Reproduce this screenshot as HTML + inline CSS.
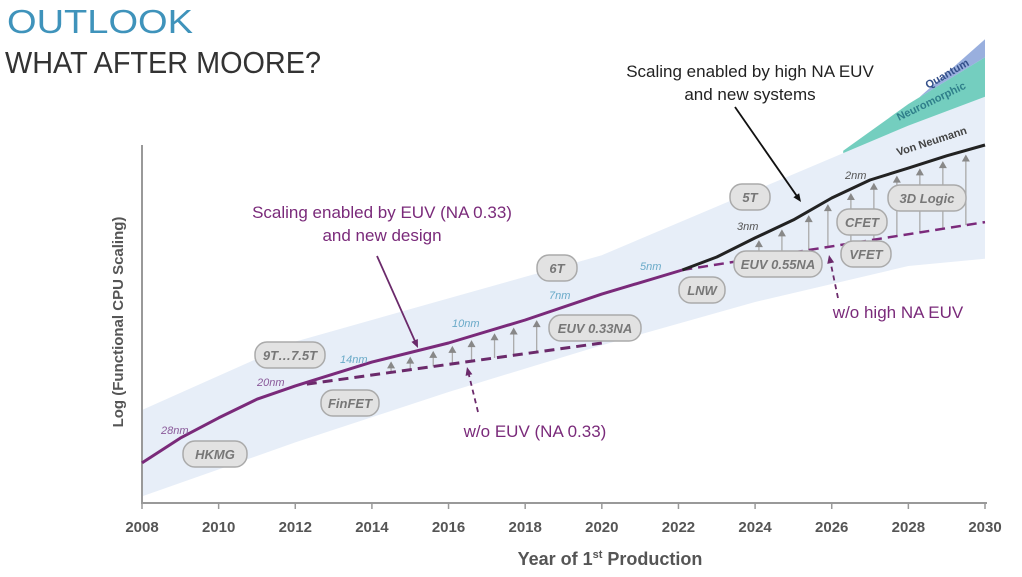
<!DOCTYPE html>
<html><head><meta charset="utf-8">
<style>
html,body{margin:0;padding:0;background:#fff;}
svg{display:block;font-family:"Liberation Sans",sans-serif;}
</style></head>
<body>
<svg id="chart" width="1022" height="577" viewBox="0 0 1022 577">
<text x="7" y="33" font-size="33" fill="#3f93bb" textLength="186" lengthAdjust="spacingAndGlyphs">OUTLOOK</text>
<text x="5" y="73" font-size="31" fill="#333" textLength="316" lengthAdjust="spacingAndGlyphs">WHAT AFTER MOORE?</text>
<g id="plot"></g>
</svg>
<script>
// ---- data ----
const xTicks = [2008,2010,2012,2014,2016,2018,2020,2022,2024,2026,2028,2030];
const mainYears = [2008,2009,2010,2011,2012,2014,2016,2018,2020,2022.1];
const mainValues = [10.3,17.2,22.8,28,31.7,38.3,43.6,50,57.2,63.9];
const highNaYears = [2022.1,2023,2024,2025,2026,2027,2028,2029,2030];
const highNaValues = [63.9,67.5,72.8,77.8,83.9,88.9,92.2,95.6,98.6];
const noEuvYears = [2012.3,2020];
const noEuvValues = [32.2,43.6];
const noHighNaYears = [2022.1,2030];
const noHighNaValues = [63.9,77.2];
const bandYears = [2008,2012,2016,2020,2024,2028,2030];
const bandUpper = [25,44,56,68,86,104,112];
const bandLower = [1,16,30,43,55,65,67];
const neuroYears = [2026.3,2028,2030];
const neuroUpper = [97,110,123];
const quantumYears = [2028.3,2030];
const quantumUpper = [112,128];
const euvArrowYears = [2014.5,2015,2015.6,2016.1,2016.6,2017.2,2017.7,2018.3];
const naArrowYears = [2024.1,2024.7,2025.4,2025.9,2026.5,2027.1,2027.7,2028.3,2028.9,2029.5];

const NS='http://www.w3.org/2000/svg';
const plot=document.getElementById('plot');
const X=y=>142+(y-2008)*(985-142)/22;
const Y=v=>500-v*3.6;
function el(tag,attrs,parent){const e=document.createElementNS(NS,tag);for(const k in attrs)e.setAttribute(k,attrs[k]);(parent||plot).appendChild(e);return e;}
function interp(ys,vs,y){for(let i=0;i<ys.length-1;i++){if(y>=ys[i]&&y<=ys[i+1]){const t=(y-ys[i])/(ys[i+1]-ys[i]);return vs[i]+t*(vs[i+1]-vs[i]);}}return y<ys[0]?vs[0]:vs[vs.length-1];}
function path(ys,vs){return ys.map((y,i)=>(i?'L':'M')+X(y).toFixed(1)+','+Y(vs[i]).toFixed(1)).join(' ');}

// band
let d=path(bandYears,bandUpper)+' '+bandYears.slice().reverse().map((y,i,a)=>'L'+X(y)+','+Y(bandLower[bandLower.length-1-i])).join(' ')+'Z';
const band=el('path',{d:d,fill:'#e7eef8'});


// neuromorphic
const nb=neuroYears.map(y=>interp(bandYears,bandUpper,y));
d=path(neuroYears,neuroUpper)+' '+neuroYears.slice().reverse().map((y,i)=>'L'+X(y)+','+Y(nb[nb.length-1-i])).join(' ')+'Z';
const neuro=el('path',{d:d,fill:'#5cc6b4',opacity:'0.85'});


const qb=quantumYears.map(y=>interp(neuroYears,neuroUpper,y));
d=path(quantumYears,quantumUpper)+' '+quantumYears.slice().reverse().map((y,i)=>'L'+X(y)+','+Y(qb[qb.length-1-i])).join(' ')+'Z';
const quant=el('path',{d:d,fill:'#7f9bd6',opacity:'0.8'});



// axes
const ax=el('path',{d:'M142,145 L142,503 L987,503',fill:'none',stroke:'#999','stroke-width':2});


xTicks.forEach(t=>{
  el('line',{x1:X(t),x2:X(t),y1:503,y2:509,stroke:'#999','stroke-width':1.5});
  const tx=el('text',{x:X(t),y:532,'font-size':15,'font-weight':'bold',fill:'#555','text-anchor':'middle'});
  tx.textContent=t;
  
  
});
const xt=el('text',{x:610,y:565,'font-size':18,'font-weight':'bold',fill:'#555','text-anchor':'middle'});
xt.innerHTML='Year of 1<tspan font-size="11" dy="-7">st</tspan><tspan dy="7"> Production</tspan>';


const yt=el('text',{x:0,y:0,'font-size':15,'font-weight':'bold',fill:'#555','text-anchor':'middle',transform:'translate(123,322) rotate(-90)'});
yt.textContent='Log (Functional CPU Scaling)';



// up arrows
function arrows(years,loY,loV,hiY,hiV,name){years.forEach(y=>{
  const y0=Y(interp(loY,loV,y)),y1=Y(interp(hiY,hiV,y))+6,x=X(y);
  const g=el('g',{});
  
  
  el('line',{x1:x,x2:x,y1:y0,y2:y1+4,stroke:'#aaa','stroke-width':1.3},g);
  el('path',{d:`M${x-4},${y1+5} L${x+4},${y1+5} L${x},${y1-2}Z`,fill:'#888'},g);
});}
arrows(euvArrowYears,noEuvYears,noEuvValues,mainYears,mainValues,'euv-gain-arrow');
arrows(naArrowYears,noHighNaYears,noHighNaValues,highNaYears,highNaValues,'high-na-gain-arrow');

// lines
let l=el('path',{d:path(noEuvYears,noEuvValues),fill:'none',stroke:'#6b2a6b','stroke-width':3,'stroke-dasharray':'10,6'});


l=el('path',{d:path(noHighNaYears,noHighNaValues),fill:'none',stroke:'#7b2a7b','stroke-width':2.5,'stroke-dasharray':'10,6'});


l=el('path',{d:path(mainYears,mainValues),fill:'none',stroke:'#7a2a7a','stroke-width':3,'stroke-linejoin':'round'});


l=el('path',{d:path(highNaYears,highNaValues),fill:'none',stroke:'#222','stroke-width':3,'stroke-linejoin':'round'});



// pills
function pill(cx,cy,w,txt,name){
  const g=el('g',{});
  
  
  el('rect',{x:cx-w/2,y:cy-13,width:w,height:26,rx:12,fill:'#e2e2e2',stroke:'#aaa','stroke-width':1.5},g);
  const t=el('text',{x:cx,y:cy+5,'font-size':13,'font-weight':'bold','font-style':'italic',fill:'#777','text-anchor':'middle'},g);
  t.textContent=txt;
}
pill(215,454,64,'HKMG','pill-hkmg');
pill(350,403,58,'FinFET','pill-finfet');
pill(290,355,70,'9T…7.5T','pill-9t');
pill(557,268,40,'6T','pill-6t');
pill(595,328,92,'EUV 0.33NA','pill-euv-033');
pill(702,290,46,'LNW','pill-lnw');
pill(750,197,40,'5T','pill-5t');
pill(778,264,88,'EUV 0.55NA','pill-euv-055');
pill(862,222,50,'CFET','pill-cfet');
pill(866,254,50,'VFET','pill-vfet');
pill(927,198,78,'3D Logic','pill-3d-logic');

// node labels
function lab(x,y,txt,col,name){const t=el('text',{x:x,y:y,'font-size':11,'font-style':'italic',fill:col});t.textContent=txt;
  
  }
lab(161,434,'28nm','#8a5a9a','node-28nm');
lab(257,386,'20nm','#8a5a9a','node-20nm');
lab(340,363,'14nm','#6aaac8','node-14nm');
lab(452,327,'10nm','#6aaac8','node-10nm');
lab(549,299,'7nm','#6aaac8','node-7nm');
lab(640,270,'5nm','#6aaac8','node-5nm');
lab(737,230,'3nm','#555','node-3nm');
lab(845,179,'2nm','#555','node-2nm');

// band labels
function rl(x,y,a,txt,col,name){const t=el('text',{x:0,y:0,'font-size':11,'font-weight':'bold',fill:col,transform:`translate(${x},${y}) rotate(${a})`});t.textContent=txt;
  
  }
rl(898,156,-18,'Von Neumann','#444','label-von-neumann');
rl(899,121,-26,'Neuromorphic','#2f7f8a','label-neuromorphic');
rl(928,89,-30,'Quantum','#334f8a','label-quantum');

// annotations
function ann(x,y,lines,col,size,name){const t=el('text',{x:x,y:y,'font-size':size,fill:col,'text-anchor':'middle'});
  
  
  lines.forEach((s,i)=>{const ts=el('tspan',{x:x,dy:i?size*1.35:0},t);ts.textContent=s;});}
ann(382,218,['Scaling enabled by EUV (NA 0.33)','and new design'],'#7a2a7a',17,'annotation-euv');
ann(750,77,['Scaling enabled by high NA EUV','and new systems'],'#222',17,'annotation-high-na');
ann(535,437,['w/o EUV (NA 0.33)'],'#7a2a7a',17,'annotation-without-euv');
ann(898,318,['w/o high NA EUV'],'#7a2a7a',17,'annotation-without-high-na');
// pointer arrows
function pointer(x1,y1,x2,y2,col,dash,name){const g=el('g',{});
  
  
  const a=Math.atan2(y2-y1,x2-x1),L=9;
  el('line',{x1:x1,y1:y1,x2:x2-Math.cos(a)*6,y2:y2-Math.sin(a)*6,stroke:col,'stroke-width':1.8,'stroke-dasharray':dash||'none'},g);
  el('path',{d:`M${x2},${y2} L${x2-L*Math.cos(a-0.4)},${y2-L*Math.sin(a-0.4)} L${x2-L*Math.cos(a+0.4)},${y2-L*Math.sin(a+0.4)}Z`,fill:col},g);}
pointer(377,256,418,348,'#6b2a6b','','pointer-euv');
pointer(735,107,801,202,'#111','','pointer-high-na');
pointer(478,412,467,367,'#6b2a6b','5,4','pointer-without-euv');
pointer(838,298,829,255,'#6b2a6b','5,4','pointer-without-high-na');
</script>
</body></html>
